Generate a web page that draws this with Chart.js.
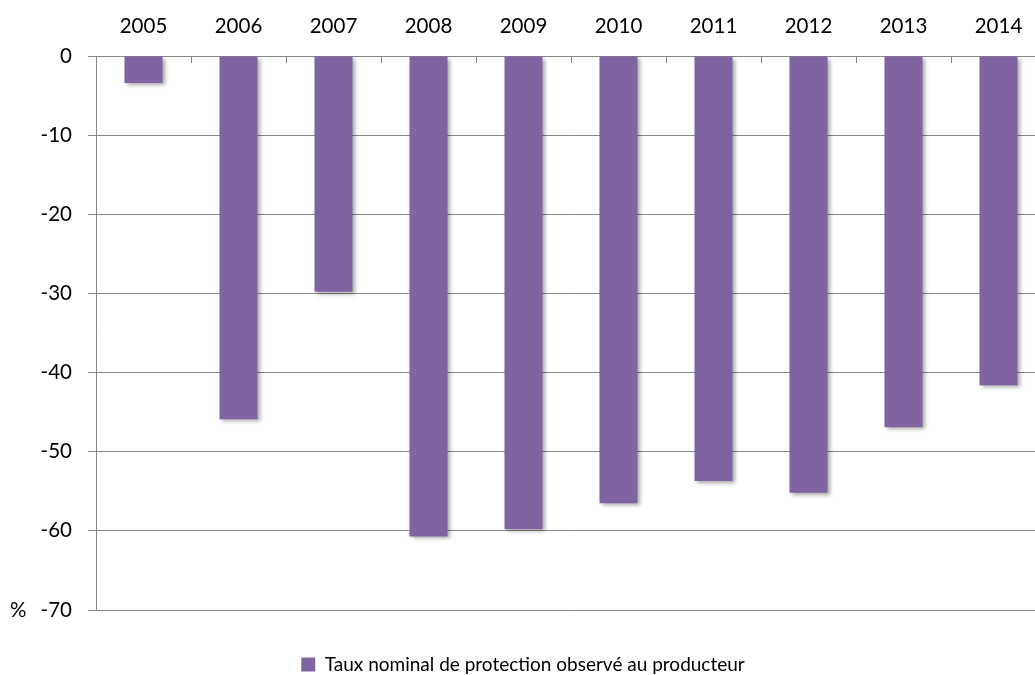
<!DOCTYPE html>
<html>
<head>
<meta charset="utf-8">
<script src="https://cdn.jsdelivr.net/npm/chart.js@4"></script>
<style>
  html, body { margin: 0; padding: 0; background: #fff; overflow: hidden; }
  #wrap { width: 1050px; height: 675px; position: relative; }
</style>
</head>
<body>
<div id="wrap"><canvas id="chart"></canvas></div>
<script>
// Données
const years  = ['2005', '2006', '2007', '2008', '2009', '2010', '2011', '2012', '2013', '2014'];
const tauxNominal = [-3.4, -45.9, -29.8, -60.7, -59.8, -56.5, -53.7, -55.2, -46.9, -41.6];
const yTicks = [0, -10, -20, -30, -40, -50, -60, -70];
const seriesLabel = 'Taux nominal de protection observé au producteur';

const FONT = 'Lato, "Open Sans", sans-serif';
const GRID = '#878787';

// ombre portée des barres
const barShadow = {
  id: 'barShadow',
  beforeDatasetsDraw(chart) {
    const ctx = chart.ctx;
    ctx.save();
    ctx.shadowColor = 'rgba(0,0,0,0.35)';
    ctx.shadowBlur = 4;
    ctx.shadowOffsetX = 2;
    ctx.shadowOffsetY = 2;
  },
  afterDatasetsDraw(chart) {
    chart.ctx.restore();
  }
};

// petites graduations vers l'intérieur sur l'axe du haut + le "%"
const extras = {
  id: 'extras',
  afterDraw(chart) {
    const ctx = chart.ctx;
    const x = chart.scales.x;
    const y = chart.scales.y;
    const top = chart.chartArea.top;
    const step = x.width / years.length;
    ctx.save();
    ctx.strokeStyle = GRID;
    ctx.lineWidth = 1;
    for (let i = 1; i < years.length; i++) {
      const px = Math.round(x.left + step * i) + 0.5;
      ctx.beginPath();
      ctx.moveTo(px, top);
      ctx.lineTo(px, top + 7);
      ctx.stroke();
    }
    ctx.fillStyle = '#000';
    ctx.font = '20.5px ' + FONT;
    ctx.textAlign = 'left';
    ctx.textBaseline = 'middle';
    ctx.fillText('%', 10, y.getPixelForValue(-70));
    ctx.restore();
  }
};

new Chart(document.getElementById('chart'), {
  type: 'bar',
  data: {
    labels: years,
    datasets: [{
      label: seriesLabel,
      data: tauxNominal,
      backgroundColor: '#8064A2',
      borderWidth: 0,
      barPercentage: 0.4,
      categoryPercentage: 1.0
    }]
  },
  options: {
    responsive: true,
    maintainAspectRatio: false,
    animation: false,
    layout: { padding: { left: 0, right: 4, top: 0, bottom: -9 } },
    plugins: {
      tooltip: { enabled: false },
      legend: {
        position: 'bottom',
        labels: {
          color: '#000',
          font: { family: FONT, size: 19 },
          boxWidth: 14,
          boxHeight: 14,
          padding: 45
        }
      }
    },
    scales: {
      x: {
        position: 'top',
        offset: true,
        grid: { display: false, drawTicks: false },
        border: { display: true, color: GRID },
        ticks: { color: '#000', font: { family: FONT, size: 20.5 }, padding: 17, maxRotation: 0 },
        afterFit(scale) { scale.height = 56; }
      },
      y: {
        min: -70,
        max: 0,
        afterBuildTicks(scale) { scale.ticks = yTicks.map(v => ({ value: v })); },
        grid: { color: GRID, tickLength: 8, drawTicks: true },
        border: { display: true, color: GRID },
        ticks: { color: '#000', font: { family: FONT, size: 20.5 }, padding: 16 },
        afterFit(scale) { scale.width = 96; }
      }
    }
  },
  plugins: [barShadow, extras]
});
</script>
</body>
</html>
